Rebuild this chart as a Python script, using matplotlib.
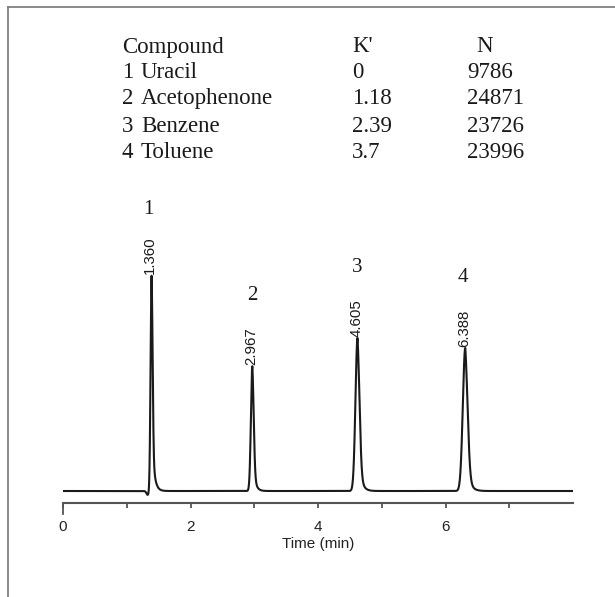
import numpy as np
import matplotlib
matplotlib.use("Agg")
from matplotlib import pyplot as plt
from matplotlib.lines import Line2D

# ===== DATA =====
compounds = ["Uracil", "Acetophenone", "Benzene", "Toluene"]
k_prime = ["0", "1.18", "2.39", "3.7"]
plates = ["9786", "24871", "23726", "23996"]

ret_time = [1.360, 2.967, 4.605, 6.388]     # labelled retention times (min)
apex_time = [1.39, 2.97, 4.62, 6.31]        # where the apex sits on the drawn axis
peak_height = [216, 125, 153, 143]          # detector response (a.u.)
peak_sigma = [0.016, 0.022, 0.032, 0.038]   # min
peak_tail = [0.035, 0.035, 0.045, 0.050]    # exponential tail, min

# small negative dip in front of the void peak
dip_time = 1.33
dip_depth = -4.0
dip_sigma = 0.02

x_ticks = [0, 2, 4, 6]
x_minor = [1, 3, 5, 7]

# ===== BUILD TRACE =====
t = np.linspace(0, 8.0, 4000)
signal = np.zeros_like(t)
for rt, h, s, tau in zip(apex_time, peak_height, peak_sigma, peak_tail):
    g = np.exp(-0.5 * ((t - rt) / s) ** 2)
    back = 0.7 * g + 0.3 * np.exp(-np.clip(t - rt, 0, None) / tau)
    signal += h * np.where(t <= rt, g, back)
signal += dip_depth * np.exp(-0.5 * ((t - dip_time) / dip_sigma) ** 2)

# ===== PLOT =====
W, H = 615, 597
fig = plt.figure(figsize=(W / 100, H / 100), dpi=100)

def fx(px):
    return px / W

def fy(py):
    return 1 - py / H

ax = fig.add_axes([fx(63), fy(503), fx(573) - fx(63), fy(200) - fy(503)])
ax.plot(t, signal, color="#1a1a1a", lw=1.5)
ax.set_xlim(0, 8.0)
ax.set_ylim(-12, 291)

axis_col = "#555555"
ax.spines[["left", "right", "top"]].set_visible(False)
ax.spines["bottom"].set_color(axis_col)
ax.spines["bottom"].set_linewidth(1.5)
ax.set_yticks([])
ax.set_xticks(x_ticks)
ax.set_xticks(x_minor, minor=True)
ax.tick_params(axis="x", which="both", length=3.5, width=1.3, color=axis_col)
ax.tick_params(axis="x", which="major", labelsize=11, pad=9)
ax.set_xticklabels([str(v) for v in x_ticks], family="Liberation Sans", color="#222222")
ax.set_xlabel("Time (min)", family="Liberation Sans", fontsize=11, labelpad=2, color="#222222")
# longer tick at the origin
ax.add_line(Line2D([0, 0], [0, -0.035], transform=ax.get_xaxis_transform(),
                   color=axis_col, lw=1.3, clip_on=False))

# retention time labels above each peak
for rt, at, h in zip(ret_time, apex_time, peak_height):
    ax.annotate(f"{rt:.3f}", xy=(at, h), xytext=(-1, 1), textcoords="offset points",
                rotation=90, ha="center", va="bottom", fontsize=10.8,
                family="Liberation Sans", color="#1a1a1a")

# peak numbers
num_pos = [(148, 210), (252, 296), (357, 267), (463, 277)]
for i, (px, py) in enumerate(num_pos):
    fig.text(fx(px), fy(py), str(i + 1), ha="center", va="center", fontsize=15,
             family="Liberation Serif", color="#1a1a1a")

# table
rows_y = [47, 73, 99, 126, 152]
tkw = dict(va="center", fontsize=16.5, family="Liberation Serif", color="#1a1a1a")
fig.text(fx(122), fy(rows_y[0]), "Compound", ha="left", **tkw)
fig.text(fx(352), fy(rows_y[0]), "K'", ha="left", **tkw)
fig.text(fx(485), fy(rows_y[0]), "N", ha="center", **tkw)
for i, (name, k, n) in enumerate(zip(compounds, k_prime, plates)):
    y = fy(rows_y[i + 1])
    fig.text(fx(122), y, str(i + 1), ha="left", **tkw)
    fig.text(fx(141), y, name, ha="left", **tkw)
    fig.text(fx(352), y, k, ha="left", **tkw)
    fig.text(fx(467), y, n, ha="left", **tkw)

# frame (only left and top edges visible)
fig.add_artist(Line2D([fx(8), fx(8)], [fy(6.5), 0], color="#808080", lw=1.3))
fig.add_artist(Line2D([fx(8), 1], [fy(6.5), fy(6.5)], color="#808080", lw=1.3))

fig.savefig("out.png", dpi=100)
